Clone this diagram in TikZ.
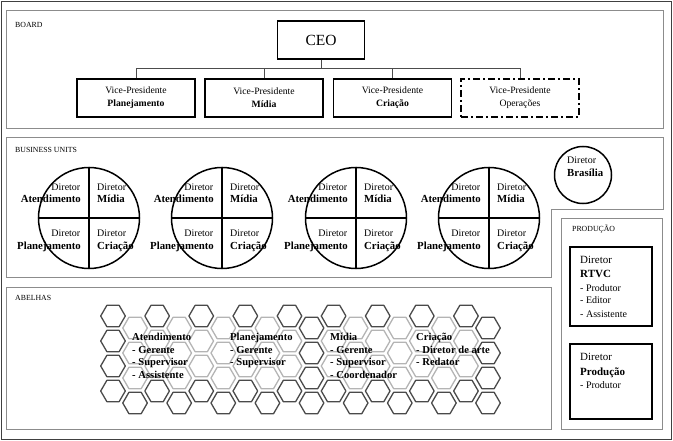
\documentclass[tikz,border=0pt]{standalone}
\usepackage{fontspec}
\setmainfont{Liberation Serif}
\definecolor{hexdark}{HTML}{4A4A4A}
\definecolor{hexlight}{HTML}{B4B4B4}
\definecolor{panelgray}{HTML}{8C8C8C}
\begin{document}
\begin{tikzpicture}[x=1pt,y=-1pt,
  panel/.style={draw=panelgray, line width=0.9pt},
  boxb/.style={draw=black, line width=1.6pt, minimum width=118pt, minimum height=38pt, inner sep=0pt, align=center, font=\fontsize{9.7}{13}\selectfont},
  conn/.style={draw=black!70, line width=0.8pt},
  seclabel/.style={font=\fontsize{7.8}{9}\selectfont, anchor=west, inner sep=0pt},
  dirtxt/.style={font=\fontsize{10}{12}\selectfont, inner sep=0pt},
  bunit/.style={font=\bfseries\fontsize{10.8}{12}\selectfont, inner sep=0pt},
  bucirc/.style={circle, draw=black, line width=1.5pt, minimum size=101pt, inner sep=0pt},
  crossline/.style={draw=black, line width=1.5pt},
  beetxt/.style={font=\bfseries\fontsize{10.6}{12.7}\selectfont, align=left, anchor=north west, inner sep=0pt},
  prodbox/.style={draw=black, line width=1.6pt, minimum width=82pt, inner sep=0pt},
  prodreg/.style={font=\fontsize{11}{13}\selectfont, anchor=base west, inner sep=0pt},
  prodbold/.style={font=\bfseries\fontsize{11}{13}\selectfont, anchor=base west, inner sep=0pt},
  prodlist/.style={font=\fontsize{10}{12}\selectfont, anchor=base west, inner sep=0pt}
]
\useasboundingbox (0,0) rectangle (673,441);

% outer frame
\draw[line width=1.4pt, black!75] (1.5,1.5) rectangle (671.5,439.5);

% panels
\draw[panel] (6,10) rectangle (663,128);
\draw[panel] (6,137) -- (663,137) -- (663,209) -- (551,209) -- (551,277) -- (6,277) -- cycle;
\draw[panel] (6,287) rectangle (551,429);
\draw[panel] (561,218) rectangle (662,429);

% section labels
\node[seclabel] (lboard) at (15,25) {BOARD};
\node[seclabel] (lbu) at (15,149.5) {BUSINESS UNITS};
\node[seclabel] (lbee) at (15,298) {ABELHAS};
\node[seclabel] (lprod) at (572,229) {PRODUÇÃO};

% BOARD
\node[draw=black, line width=1.6pt, minimum width=87pt, minimum height=38pt, inner sep=0pt, font=\fontsize{15.5}{18}\selectfont] (ceo) at (321,40) {CEO};
\node[boxb] (vp1) at (136,98) {Vice-Presidente\\\textbf{Planejamento}};
\node[boxb] (vp2) at (264,98) {Vice-Presidente\\\textbf{Mídia}};
\node[boxb] (vp3) at (392.5,98) {Vice-Presidente\\\textbf{Criação}};
\node[boxb, dash pattern=on 7pt off 3pt on 2pt off 3pt] (vp4) at (520,98) {Vice-Presidente\\Operações};
\coordinate (bus) at (321,68);
\draw[conn] (ceo.south) -- (bus);
\draw[conn] (vp1.north) |- (vp4.north |- bus) -- (vp4.north);
\draw[conn] (vp2.north) -- (vp2.north |- bus);
\draw[conn] (vp3.north) -- (vp3.north |- bus);

% BUSINESS UNITS circles
\foreach \cx [count=\k] in {89,222,356,489} {
  \node[bucirc] (bu\k) at (\cx,218) {};
  \draw[crossline] (bu\k.north) -- (bu\k.south);
  \draw[crossline] (bu\k.west) -- (bu\k.east);
  \node[dirtxt, anchor=base east] (bu\k d1) at (\cx-8.5,190.5) {Diretor};
  \node[bunit, anchor=base east] (bu\k n1) at (\cx-8,203) {Atendimento};
  \node[dirtxt, anchor=base west] (bu\k d2) at (\cx+8,190.5) {Diretor};
  \node[bunit, anchor=base west] (bu\k n2) at (\cx+8,203) {Mídia};
  \node[dirtxt, anchor=base east] (bu\k d3) at (\cx-8.5,237) {Diretor};
  \node[bunit, anchor=base east] (bu\k n3) at (\cx-8,249.5) {Planejamento};
  \node[dirtxt, anchor=base west] (bu\k d4) at (\cx+8,237) {Diretor};
  \node[bunit, anchor=base west] (bu\k n4) at (\cx+8,249.5) {Criação};
}
\node[circle, draw=black, line width=1.5pt, minimum size=57pt, inner sep=0pt] (bra) at (583,175) {};
\node[dirtxt, anchor=base west] (brad) at (567,163.5) {Diretor};
\node[bunit, anchor=base west] (bran) at (567,176.5) {Brasília};

% ABELHAS honeycomb
\foreach \j in {0,...,17} {
  \foreach \i in {0,...,3} {
    \pgfmathsetmacro\hx{113+22.06*\j}
    \pgfmathsetmacro\hy{316+25*\i+12*mod(\j,2)}
    \pgfmathtruncatemacro\hexlt{((\hx>122)&&(\hx<206)&&(\hy>325)&&(\hy<391))||((\hx>220)&&(\hx<300)&&(\hy>325)&&(\hy<380))||((\hx>322)&&(\hx<406)&&(\hy>325)&&(\hy<391))||((\hx>408)&&(\hx<482)&&(\hy>325)&&(\hy<380))}
    \ifnum\hexlt=1 \def\hcol{hexlight}\else\def\hcol{hexdark}\fi
    \draw[draw=\hcol, line width=1.3pt, line join=round, shift={(\hx,\hy)}] (0:12.3) -- (60:12.3) -- (120:12.3) -- (180:12.3) -- (240:12.3) -- (300:12.3) -- cycle;
  }
}
\node[beetxt] (bA) at (132,333) {Atendimento\\- Gerente\\- Supervisor\\- Assistente};
\node[beetxt] (bP) at (230,333) {Planejamento\\- Gerente\\- Supervisor};
\node[beetxt] (bM) at (330,333) {Mídia\\- Gerente\\- Supervisor\\- Coordenador};
\node[beetxt] (bC) at (416,333) {Criação\\- Diretor de arte\\- Redator};

% PRODUCAO
\node[prodbox, minimum height=79pt] (rtvc) at (611,286.5) {};
\node[prodreg] (rtvcd) at (580,264) {Diretor};
\node[prodbold] (rtvcn) at (580,278) {RTVC};
\node[prodlist] (rtvc1) at (580,291) {- Produtor};
\node[prodlist] (rtvc2) at (580,304) {- Editor};
\node[prodlist] (rtvc3) at (580,317) {- Assistente};
\node[prodbox, minimum height=75pt] (prod) at (611,381.5) {};
\node[prodreg] (prodd) at (580,360) {Diretor};
\node[prodbold] (prodn) at (580,375) {Produção};
\node[prodlist] (prod1) at (580,388) {- Produtor};
\end{tikzpicture}
\end{document}
